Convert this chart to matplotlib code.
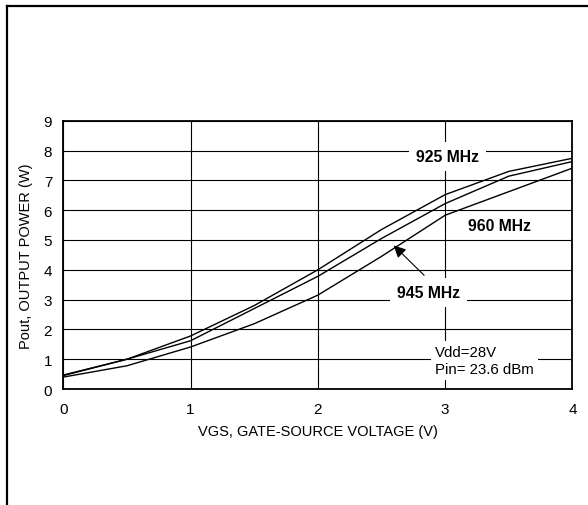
import numpy as np
import matplotlib
matplotlib.use('Agg')
import matplotlib.pyplot as plt
from matplotlib.lines import Line2D

plt.rcParams['font.family'] = ['Liberation Sans', 'DejaVu Sans']

# gate-source voltage (V)
vgs = [0, 0.5, 1, 1.5, 2, 2.5, 3, 3.5, 4]
# output power (W) per frequency
pout_925 = [0.47, 1.0, 1.78, 2.8, 4.0, 5.35, 6.52, 7.3, 7.74]
pout_945 = [0.45, 1.0, 1.62, 2.7, 3.78, 5.05, 6.22, 7.14, 7.63]
pout_960 = [0.40, 0.78, 1.41, 2.19, 3.15, 4.45, 5.83, 6.62, 7.41]

fig = plt.figure(figsize=(5.88, 5.06), dpi=100)
ax = fig.add_axes([0.1077, 0.2292, 0.8659, 0.5303])

for y in (pout_925, pout_945, pout_960):
    ax.plot(vgs, y, color='k', lw=1.0, zorder=3)

ax.set_xlim(0, 4)
ax.set_ylim(0, 9)
ax.set_xticks(range(0, 5))
ax.set_yticks(range(0, 10))
ax.grid(True, color='k', lw=0.8)
ax.set_axisbelow(True)
ax.tick_params(length=0, labelsize=11)
ax.tick_params(axis='x', pad=9)
ax.tick_params(axis='y', pad=8)
for s in ax.spines.values():
    s.set_linewidth(1.3)

ax.set_xlabel('VGS, GATE-SOURCE VOLTAGE (V)', fontsize=10.5, labelpad=6)
ax.set_ylabel('Pout, OUTPUT POWER (W)', fontsize=10.5, labelpad=8)

ax.text(3.02, 7.8, '925 MHz', fontsize=11.3, fontweight='bold',
        ha='center', va='center', bbox=dict(facecolor='white', edgecolor='none', pad=5), zorder=4)
ax.text(3.43, 5.5, '960 MHz', fontsize=11.3, fontweight='bold',
        ha='center', va='center', zorder=4)
ax.text(2.87, 3.25, '945 MHz', fontsize=11.3, fontweight='bold',
        ha='center', va='center', bbox=dict(facecolor='white', edgecolor='none', pad=5), zorder=4)
ax.annotate('', xy=(2.58, 4.88), xytext=(2.85, 3.75),
            arrowprops=dict(arrowstyle='-|>', color='k', lw=0.8,
                            mutation_scale=18), zorder=5)
ax.text(2.92, 0.96, 'Vdd=28V\nPin= 23.6 dBm', fontsize=10.8, ha='left', va='center',
        linespacing=1.25, bbox=dict(facecolor='white', edgecolor='none', pad=3), zorder=4)

# outer frame (top and left edges)
W, H = 588, 506
fig.add_artist(Line2D([7 / W, 7 / W], [0, 1 - 7 / H], color='k', lw=1.6,
                      transform=fig.transFigure))
fig.add_artist(Line2D([7 / W, 1], [1 - 7 / H, 1 - 7 / H], color='k', lw=1.6,
                      transform=fig.transFigure))

fig.savefig('out.png', dpi=100)
